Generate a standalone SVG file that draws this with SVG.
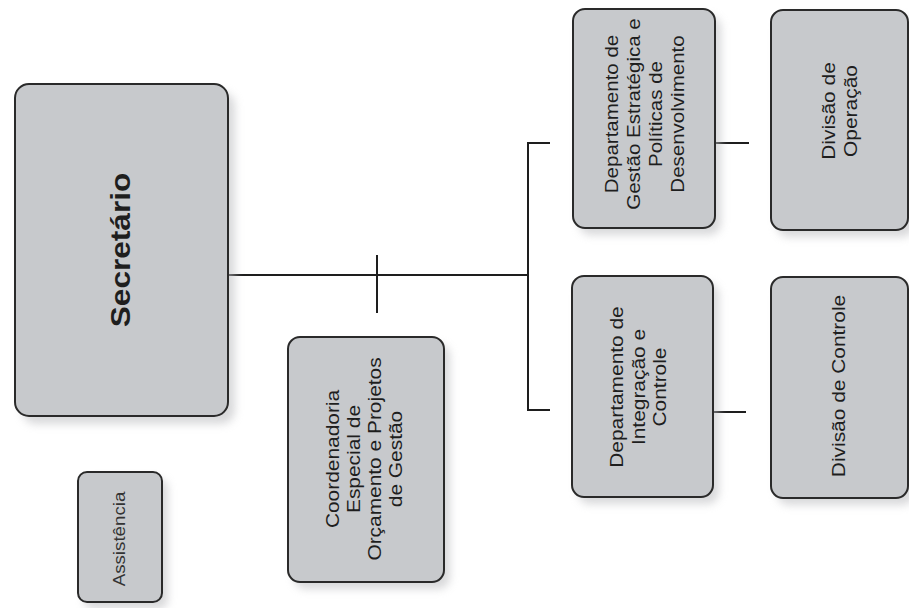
<svg xmlns="http://www.w3.org/2000/svg" width="909" height="608" viewBox="0 0 909 608">
<defs>
<filter id="sh" x="-20%" y="-20%" width="140%" height="140%"><feGaussianBlur stdDeviation="4"/></filter>
<style>
.box{fill:#c7c9cc;stroke:#2a2a2a;stroke-width:2}
.shadow{fill:#b9babd;opacity:0.55;filter:url(#sh)}
.t{font-family:"Liberation Sans",Arial,sans-serif;font-size:19px;fill:#1e1e1e;text-anchor:middle;dominant-baseline:central}
.big{font-size:27px;font-weight:bold}
.small{font-size:16px;fill:#333}
.conn{stroke:#1e1e1e;stroke-width:2;fill:none}
</style>
</defs>
<rect width="909" height="608" fill="#ffffff"/>
<g id="connectors">
<line class="conn" x1="228" y1="275" x2="528" y2="275"/>
<line class="conn" x1="377" y1="255" x2="377" y2="313"/>
<polyline class="conn" points="550,143 528,143 528,410 550,410"/>
<line class="conn" x1="714" y1="143" x2="749" y2="143"/>
<line class="conn" x1="712" y1="412" x2="746" y2="412"/>
</g>
<g id="secretario">
<rect class="shadow" x="22" y="92" width="213" height="332" rx="14"/>
<rect class="box" x="15" y="84" width="213" height="332" rx="14"/>
<text class="t big" transform="translate(120,250) rotate(-90) scale(1.17,1)">Secretário</text>
</g>
<g id="assistencia">
<rect class="shadow" x="84" y="479" width="84" height="130" rx="9"/>
<rect class="box" x="78" y="472" width="84" height="130" rx="9"/>
<text class="t small" transform="translate(119,539) rotate(-90) scale(1.17,1)">Assistência</text>
</g>
<g id="coordenadoria">
<rect class="shadow" x="294" y="344" width="156" height="245" rx="12"/>
<rect class="box" x="288" y="337" width="156" height="245" rx="12"/>
<text class="t" transform="translate(364,459) rotate(-90) scale(1.1,1)"><tspan x="0" y="-31.5">Coordenadoria</tspan><tspan x="0" y="-10.5">Especial de</tspan><tspan x="0" y="10.5">Orçamento e Projetos</tspan><tspan x="0" y="31.5">de Gestão</tspan></text>
</g>
<g id="dept-gestao">
<rect class="shadow" x="579" y="16" width="142" height="219" rx="12"/>
<rect class="box" x="573" y="9" width="142" height="219" rx="12"/>
<text class="t" transform="translate(644,114) rotate(-90) scale(1.08,1)"><tspan x="0" y="-33">Departamento de</tspan><tspan x="0" y="-11">Gestão Estratégica e</tspan><tspan x="0" y="11">Políticas de</tspan><tspan x="0" y="33">Desenvolvimento</tspan></text>
</g>
<g id="dept-integracao">
<rect class="shadow" x="578" y="283" width="141" height="221" rx="12"/>
<rect class="box" x="572" y="276" width="141" height="221" rx="12"/>
<text class="t" transform="translate(638,387) rotate(-90) scale(1.1,1)"><tspan x="0" y="-21.5">Departamento de</tspan><tspan x="0" y="0">Integração e</tspan><tspan x="0" y="21.5">Controle</tspan></text>
</g>
<g id="div-operacao">
<rect class="shadow" x="777" y="17" width="137" height="220" rx="12"/>
<rect class="box" x="771" y="10" width="137" height="220" rx="12"/>
<text class="t" transform="translate(839,111) rotate(-90) scale(1.1,1)"><tspan x="0" y="-11">Divisão de</tspan><tspan x="0" y="11">Operação</tspan></text>
</g>
<g id="div-controle">
<rect class="shadow" x="777" y="284" width="137" height="221" rx="12"/>
<rect class="box" x="771" y="277" width="137" height="221" rx="12"/>
<text class="t" transform="translate(838,386) rotate(-90) scale(1.1,1)">Divisão de Controle</text>
</g>
</svg>
